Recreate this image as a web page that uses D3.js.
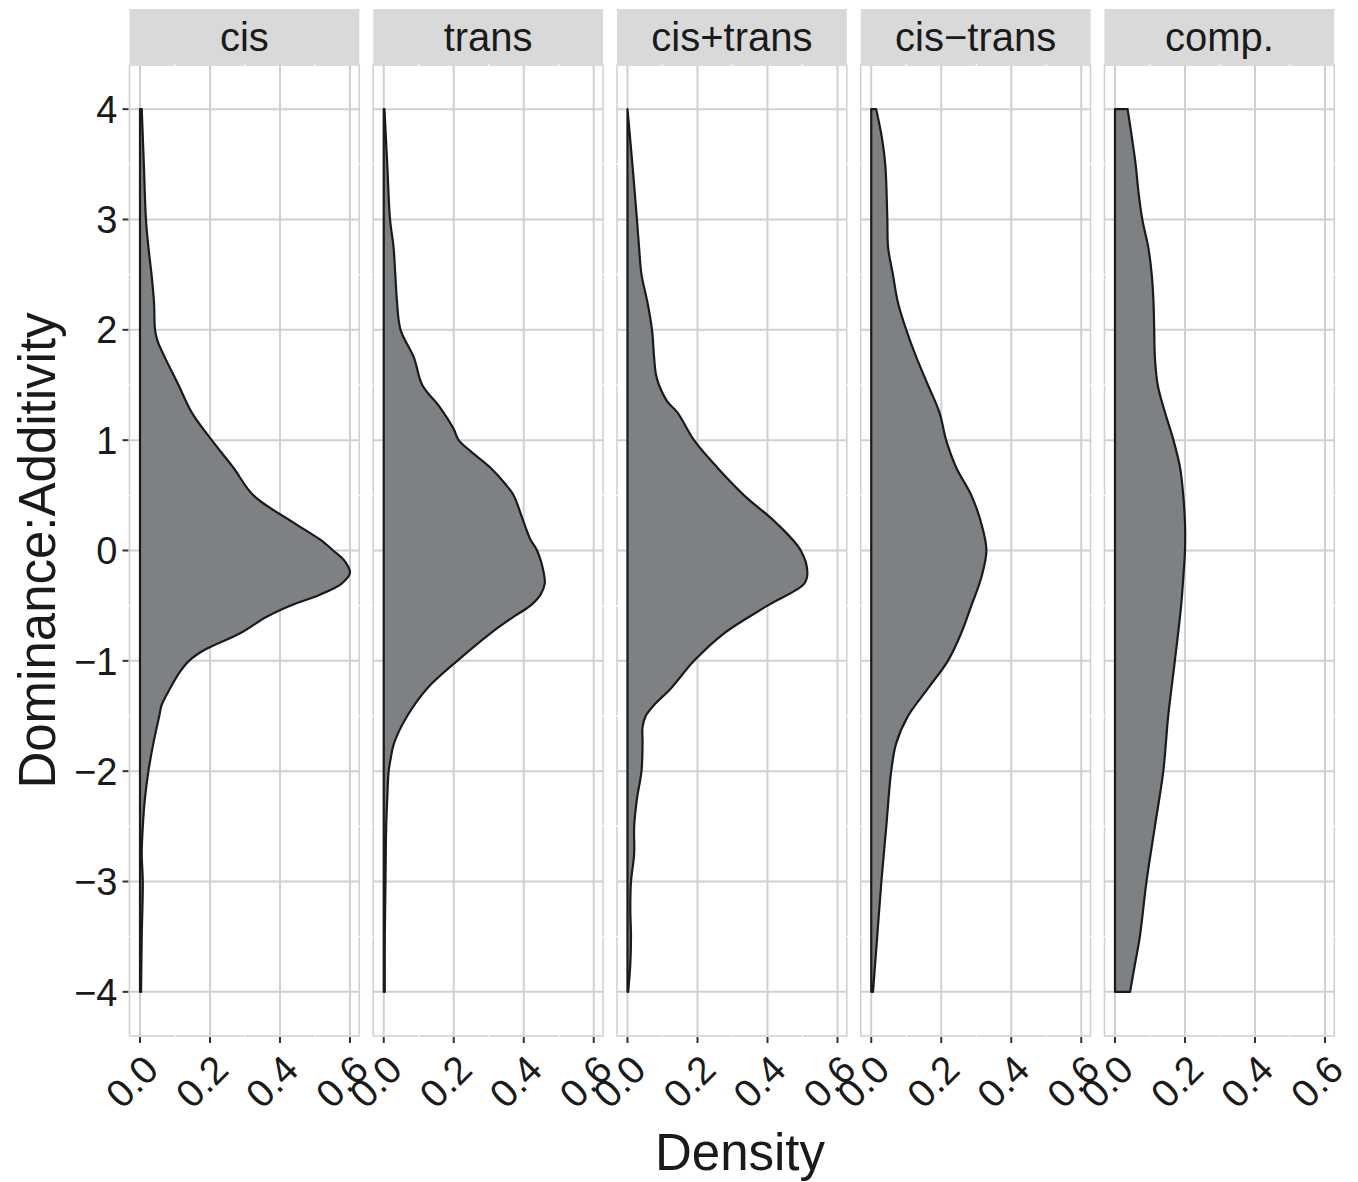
<!DOCTYPE html>
<html>
<head>
<meta charset="utf-8">
<script src="https://cdn.jsdelivr.net/npm/d3@7"></script>
<style>
  html, body { margin: 0; padding: 0; background: #ffffff; }
  svg { display: block; }
  text { font-family: "Liberation Sans", Arial, Helvetica, sans-serif; fill: #1a1a1a; }
</style>
</head>
<body>
<script>
// Facet names, left to right
const facets = ["cis", "trans", "cis+trans", "cis\u2212trans", "comp."];

// Density estimates per facet: y = Dominance:Additivity, d = density
const cisY = [4, 3.5, 3, 2.75, 2.5, 2.25, 2, 1.9, 1.75, 1.5, 1.25, 1, 0.75, 0.5, 0.25, 0.1, 0, -0.1, -0.2, -0.3, -0.4, -0.5, -0.6, -0.75, -0.9, -1, -1.1, -1.25, -1.4, -1.5, -1.75, -2, -2.25, -2.5, -2.75, -3, -3.5, -4];
const cisD = [0.005, 0.011, 0.017, 0.024, 0.033, 0.040, 0.043, 0.050, 0.071, 0.110, 0.148, 0.205, 0.267, 0.324, 0.440, 0.514, 0.552, 0.586, 0.600, 0.576, 0.514, 0.429, 0.362, 0.286, 0.185, 0.140, 0.114, 0.086, 0.062, 0.055, 0.038, 0.024, 0.014, 0.008, 0.005, 0.008, 0.005, 0.003];

const transY = [4, 3.5, 3, 2.75, 2.5, 2.25, 2, 1.75, 1.5, 1.3, 1.1, 1, 0.9, 0.75, 0.6, 0.5, 0.3, 0.1, 0, -0.2, -0.3, -0.4, -0.5, -0.6, -0.75, -1, -1.25, -1.5, -1.75, -1.9, -2, -2.25, -2.5, -3, -3.5, -4];
const transD = [0.002, 0.010, 0.018, 0.028, 0.033, 0.038, 0.048, 0.086, 0.110, 0.160, 0.200, 0.214, 0.248, 0.305, 0.348, 0.371, 0.395, 0.419, 0.438, 0.457, 0.460, 0.448, 0.419, 0.371, 0.305, 0.210, 0.124, 0.067, 0.029, 0.019, 0.014, 0.010, 0.007, 0.005, 0.003, 0.003];

const cisPlusY = [4, 3.5, 3, 2.75, 2.5, 2.25, 2, 1.75, 1.6, 1.5, 1.35, 1.25, 1, 0.75, 0.5, 0.25, 0, -0.2, -0.3, -0.5, -0.75, -1, -1.25, -1.4, -1.5, -1.6, -1.75, -2, -2.25, -2.5, -2.75, -3, -3.25, -3.5, -3.75, -4];
const cisPlusD = [0.0, 0.014, 0.027, 0.033, 0.040, 0.057, 0.070, 0.076, 0.081, 0.090, 0.114, 0.143, 0.190, 0.257, 0.333, 0.425, 0.495, 0.514, 0.505, 0.400, 0.276, 0.190, 0.124, 0.076, 0.052, 0.043, 0.043, 0.040, 0.027, 0.019, 0.019, 0.010, 0.008, 0.010, 0.008, 0.002];

const cisMinusY = [4, 3.75, 3.5, 3, 2.75, 2.5, 2.25, 2, 1.75, 1.5, 1.25, 1, 0.75, 0.5, 0.25, 0, -0.25, -0.5, -0.75, -1, -1.25, -1.5, -1.75, -2, -2.5, -3, -3.5, -4];
const cisMinusD = [0.014, 0.030, 0.040, 0.046, 0.048, 0.062, 0.076, 0.100, 0.129, 0.162, 0.195, 0.214, 0.243, 0.286, 0.314, 0.329, 0.314, 0.286, 0.257, 0.219, 0.162, 0.105, 0.071, 0.057, 0.043, 0.029, 0.017, 0.005];

const compY = [4, 3.75, 3.5, 3.25, 3, 2.75, 2.5, 2.25, 2, 1.75, 1.5, 1.25, 1, 0.75, 0.5, 0.25, 0, -0.25, -0.5, -1, -1.5, -2, -2.5, -3, -3.5, -3.75, -4];
const compD = [0.036, 0.048, 0.059, 0.067, 0.078, 0.095, 0.105, 0.110, 0.112, 0.114, 0.122, 0.143, 0.167, 0.186, 0.195, 0.200, 0.200, 0.195, 0.189, 0.171, 0.152, 0.138, 0.114, 0.090, 0.071, 0.057, 0.043];

// Tick values
const yTicks = [-4, -3, -2, -1, 0, 1, 2, 3, 4];
const yMinor = [-3.5, -2.5, -1.5, -0.5, 0.5, 1.5, 2.5, 3.5];
const xTicks = [0.0, 0.2, 0.4, 0.6];
const xMinor = [0.1, 0.3, 0.5];

const seriesY = [cisY, transY, cisPlusY, cisMinusY, compY];
const seriesD = [cisD, transD, cisPlusD, cisMinusD, compD];

const W = 1358, H = 1182;
const panelLeft0 = 129.5, panelPitch = 243.75, panelW = 229.8;
const panelTop = 65, panelBottom = 1036, stripTop = 9;

const svg = d3.select("body").append("svg").attr("width", W).attr("height", H);

const y = d3.scaleLinear().domain([-4.4, 4.4]).range([panelBottom, panelTop]);
const fmtY = d => (d < 0 ? "\u2212" + Math.abs(d) : String(d));

facets.forEach((name, i) => {
  const left = panelLeft0 + i * panelPitch;
  const x = d3.scaleLinear().domain([-0.03, 0.6266]).range([left, left + panelW]);
  const g = svg.append("g");

  // Panel background with its outline
  g.append("rect")
    .attr("x", left).attr("y", panelTop)
    .attr("width", panelW).attr("height", panelBottom - panelTop)
    .attr("fill", "#ffffff").attr("stroke", "#cfcfcf").attr("stroke-width", 1.5);

  // Minor grid (white, only shows where it crosses the outline)
  g.selectAll(".ymin").data(yMinor).join("line")
    .attr("x1", left - 1).attr("x2", left + panelW + 1)
    .attr("y1", d => y(d)).attr("y2", d => y(d))
    .attr("stroke", "#ffffff").attr("stroke-width", 1);
  g.selectAll(".xmin").data(xMinor).join("line")
    .attr("x1", d => x(d)).attr("x2", d => x(d))
    .attr("y1", panelTop - 1).attr("y2", panelBottom + 1)
    .attr("stroke", "#ffffff").attr("stroke-width", 1);

  // Major grid
  g.selectAll(".ymaj").data(yTicks).join("line")
    .attr("x1", left).attr("x2", left + panelW)
    .attr("y1", d => y(d)).attr("y2", d => y(d))
    .attr("stroke", "#d0d0d0").attr("stroke-width", 2);
  g.selectAll(".xmaj").data(xTicks).join("line")
    .attr("x1", d => x(d)).attr("x2", d => x(d))
    .attr("y1", panelTop).attr("y2", panelBottom)
    .attr("stroke", "#d0d0d0").attr("stroke-width", 2);

  // Density area, drawn along the vertical axis
  const pts = seriesY[i].map((v, k) => [v, seriesD[i][k]]);
  const area = d3.area()
    .y(d => y(d[0]))
    .x0(x(0))
    .x1(d => x(d[1]))
    .curve(d3.curveCatmullRom.alpha(0.5));
  g.append("path")
    .datum(pts)
    .attr("d", area)
    .attr("fill", "#7e8184")
    .attr("stroke", "#1a1a1a")
    .attr("stroke-width", 2.2)
    .attr("stroke-linejoin", "round");

  // Strip
  g.append("rect")
    .attr("x", left).attr("y", stripTop)
    .attr("width", panelW).attr("height", panelTop - stripTop - 1)
    .attr("fill", "#d9d9d9");
  g.append("text")
    .attr("x", left + panelW / 2).attr("y", 51)
    .attr("text-anchor", "middle")
    .attr("font-size", 40)
    .text(name);

  // X axis ticks and labels
  const xa = g.append("g");
  xa.selectAll("line").data(xTicks).join("line")
    .attr("x1", d => x(d)).attr("x2", d => x(d))
    .attr("y1", panelBottom + 1).attr("y2", panelBottom + 7)
    .attr("stroke", "#333333").attr("stroke-width", 2);
  xa.selectAll("text").data(xTicks).join("text")
    .attr("transform", d => `translate(${x(d) + 1.5},1091) rotate(-45)`)
    .attr("text-anchor", "middle")
    .attr("font-size", 39)
    .text(d => d.toFixed(1));
});

// Y axis on the first panel
const ya = svg.append("g");
ya.selectAll("line").data(yTicks).join("line")
  .attr("x1", panelLeft0 - 7).attr("x2", panelLeft0 - 1)
  .attr("y1", d => y(d)).attr("y2", d => y(d))
  .attr("stroke", "#333333").attr("stroke-width", 2);
ya.selectAll("text").data(yTicks).join("text")
  .attr("x", panelLeft0 - 12)
  .attr("y", d => y(d))
  .attr("dy", "0.36em")
  .attr("text-anchor", "end")
  .attr("font-size", 38)
  .text(fmtY);

// Axis titles
svg.append("text")
  .attr("x", 740).attr("y", 1170)
  .attr("text-anchor", "middle")
  .attr("font-size", 51)
  .text("Density");
svg.append("text")
  .attr("transform", `translate(55,${y(0)}) rotate(-90)`)
  .attr("text-anchor", "middle")
  .attr("font-size", 51)
  .text("Dominance:Additivity");
</script>
</body>
</html>
